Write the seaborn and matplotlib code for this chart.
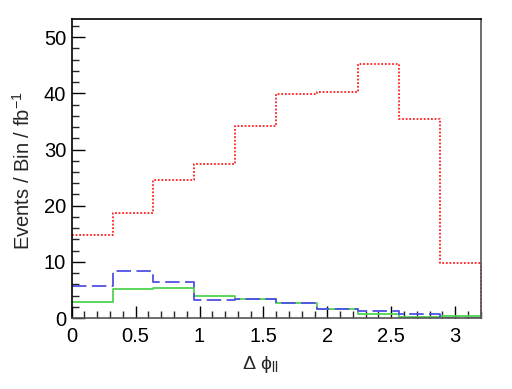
import numpy as np
import pandas as pd
import matplotlib
matplotlib.use("Agg")
import matplotlib.pyplot as plt
import seaborn as sns
from matplotlib.ticker import MultipleLocator

# ---- data ----
bin_edges = [0.0, 0.32, 0.64, 0.96, 1.28, 1.60, 1.92, 2.24, 2.56, 2.88, 3.20]
red_vals = [14.8, 18.7, 24.6, 27.4, 34.2, 39.9, 40.2, 45.2, 35.4, 9.9]
blue_vals = [5.7, 8.35, 6.4, 3.25, 3.45, 2.65, 1.55, 1.2, 0.8, 0.05]
green_vals = [2.85, 5.15, 5.3, 3.95, 3.45, 2.75, 1.65, 0.8, 0.27, 0.35]
x_ticks = [0, 0.5, 1, 1.5, 2, 2.5, 3]
x_tick_labels = ["0", "0.5", "1", "1.5", "2", "2.5", "3"]
y_ticks = [0, 10, 20, 30, 40, 50]
y_tick_labels = ["0", "10", "20", "30", "40", "50"]

sns.set_style("ticks")
plt.rcParams['font.family'] = ['Liberation Sans', 'DejaVu Sans']
plt.rcParams['mathtext.fontset'] = 'custom'
plt.rcParams['mathtext.rm'] = 'Liberation Sans'
plt.rcParams['mathtext.it'] = 'Liberation Sans:italic'

centers = [(a + b) / 2 for a, b in zip(bin_edges[:-1], bin_edges[1:])]
df = pd.DataFrame({"x": centers, "red": red_vals, "blue": blue_vals, "green": green_vals})

fig = plt.figure(figsize=(5.12, 3.89), dpi=100)
ax = fig.add_axes([0.14, 0.182, 0.799, 0.769])

series = [
    ("green", "#4fd44f", "-"),
    ("blue", "#5050e6", (0, (8, 3))),
    ("red", "#ff2020", (0, (1, 1))),
]
for col, color, ls in series:
    sns.histplot(data=df, x="x", weights=col, bins=bin_edges, element="step",
                 fill=False, color=color, linewidth=1.3, linestyle=ls, ax=ax)
    # closing drop of the histogram outline at the last bin edge
    ax.plot([bin_edges[-1], bin_edges[-1]], [0, df[col].iloc[-1]],
            color=color, linewidth=1.3, linestyle=ls, clip_on=False)

ax.set_xlim(0, 3.2)
ax.set_ylim(0, 53.2)
ax.set_xticks(x_ticks)
ax.set_xticklabels(x_tick_labels)
ax.set_yticks(y_ticks)
ax.set_yticklabels(y_tick_labels)
ax.xaxis.set_minor_locator(MultipleLocator(0.1))
ax.yaxis.set_minor_locator(MultipleLocator(2))
ax.tick_params(axis='both', which='major', direction='in', length=9, width=1,
               labelsize=14.5, colors='black')
ax.tick_params(axis='x', which='major', pad=6)
ax.tick_params(axis='y', which='major', pad=4)
ax.tick_params(axis='both', which='minor', direction='in', length=5, width=1)
ax.tick_params(axis='x', which='both', top=False)
ax.tick_params(axis='y', which='both', right=False)
for s in ax.spines.values():
    s.set_visible(True)
    s.set_linewidth(1.2)
    s.set_color('black')
ax.spines['bottom'].set_color('#555555')
ax.spines['right'].set_color('#555555')

ax.set_xlabel("")
ax.set_ylabel("")
fig.text(0.508, 0.062, r"Δ ϕ$_{\mathregular{ll}}$", fontsize=14, ha='center', va='center')
fig.text(0.045, 0.56, r"Events / Bin / fb$^{\mathregular{-1}}$", fontsize=14.5,
         rotation=90, ha='center', va='center')

fig.savefig("out.png", dpi=100)
